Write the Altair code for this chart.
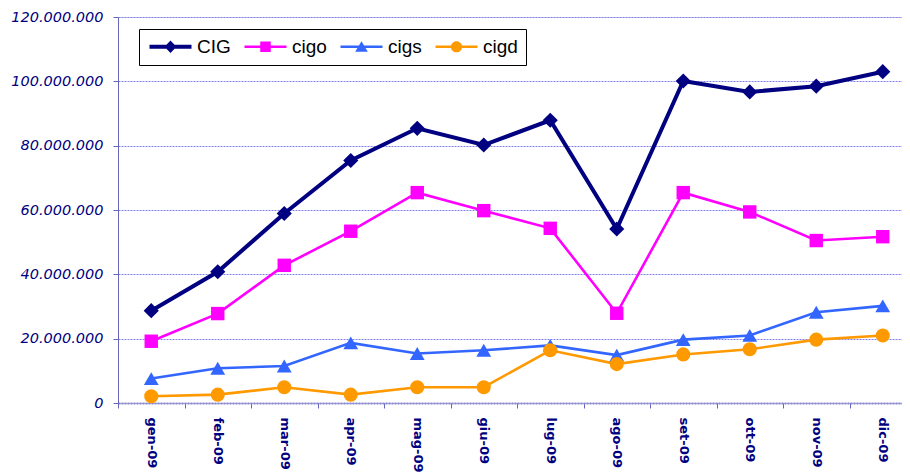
import altair as alt
import pandas as pd

months = ["gen-09", "feb-09", "mar-09", "apr-09", "mag-09", "giu-09",
          "lug-09", "ago-09", "set-09", "ott-09", "nov-09", "dic-09"]
series_names = ["CIG", "cigo", "cigs", "cigd"]

CIG = [28.7, 40.8, 58.9, 75.4, 85.4, 80.2, 87.9, 54.1, 100.1, 96.7, 98.5, 103.0]
cigo = [19.2, 27.8, 42.8, 53.4, 65.4, 59.8, 54.3, 27.9, 65.4, 59.4, 50.5, 51.7]
cigs = [7.6, 10.8, 11.5, 18.7, 15.4, 16.4, 17.9, 14.9, 19.7, 21.0, 28.2, 30.2]
cigd = [2.1, 2.6, 4.9, 2.6, 4.9, 4.9, 16.4, 12.1, 15.1, 16.7, 19.7, 21.0]

colors = ["#000080", "#FF00FF", "#3366FF", "#FF9900"]
shapes = ["diamond", "square", "triangle-up", "circle"]
sizes = [230, 180, 220, 200]
widths = [4, 2.6, 2.6, 2.6]

rows = []
for name, vals in zip(series_names, [CIG, cigo, cigs, cigd]):
    for m, v in zip(months, vals):
        rows.append({"mese": m, "serie": name, "valore": v * 1_000_000})
df = pd.DataFrame(rows)
legend_df = pd.DataFrame({"serie": series_names})

# legend symbols: line segment + marker (unit = 7px)
def seg(h):
    return f"M-1,-{h}H5V{h}H-1Z "
legend_paths = [
    seg(0.28) + "M2,-0.9L2.85,0L2,0.9L1.15,0Z",
    seg(0.17) + "M1.25,-0.75H2.75V0.75H1.25Z",
    seg(0.17) + "M2,-0.8L2.9,0.7H1.1Z",
    seg(0.17) + "M2.8,0A0.8,0.8 0 1,1 1.2,0A0.8,0.8 0 1,1 2.8,0Z",
]

legend = alt.Legend(
    title=None,
    orient="none",
    legendX=21,
    legendY=12,
    direction="horizontal",
    columns=4,
    strokeColor="black",
    fillColor="white",
    padding=8,
    symbolSize=196,
    symbolStrokeWidth=0,
    symbolOpacity=1,
    labelOffset=31,
    columnPadding=11,
    labelFont="Liberation Sans",
    labelFontSize=19,
    labelColor="black",
    labelLimit=200,
    cornerRadius=0,
)

x_enc = alt.X(
    "mese:O",
    sort=months,
    scale=alt.Scale(type="band", paddingInner=0, paddingOuter=0),
    axis=alt.Axis(
        title=None,
        labelAngle=90,
        labelFont="DejaVu Sans",
        labelFontSize=13,
        labelFontWeight="bold",
        labelColor="#000080",
        labelPadding=9,
        tickBand="extent",
        tickSize=5,
        tickColor="#6666bb",
        domainColor="#8888cc",
        domainWidth=2,
        domainDash=[2, 1],
        grid=False,
    ),
)
y_enc = alt.Y(
    "valore:Q",
    scale=alt.Scale(domain=[0, 120_000_000], nice=False),
    axis=alt.Axis(
        title=None,
        values=[0, 20e6, 40e6, 60e6, 80e6, 100e6, 120e6],
        labelExpr="replace(format(datum.value, ','), regexp(',', 'g'), '.')",
        labelFont="DejaVu Sans",
        labelFontSize=14.5,
        labelFontStyle="italic",
        labelColor="#000080",
        labelPadding=10,
        tickSize=5,
        tickColor="#6666bb",
        domainColor="#6666bb",
        gridColor="#8080ee",
        gridDash=[2, 1],
        gridWidth=1,
    ),
)
color_scale = alt.Scale(domain=series_names, range=colors)

base = alt.Chart(df)

line_layers = []
point_layers = []
for name, shp, sz, col, w in zip(series_names, shapes, sizes, colors, widths):
    sub = base.transform_filter(alt.datum.serie == name)
    line_layers.append(
        sub.mark_line(color=col, strokeWidth=w).encode(x=x_enc, y=y_enc)
    )
    point_layers.append(
        sub.mark_point(filled=True, opacity=1, shape=shp, size=sz, color=col)
        .encode(x=x_enc, y=y_enc)
    )

legend_layer = (
    alt.Chart(legend_df)
    .mark_point(filled=True, opacity=0, size=196)
    .encode(
        x=alt.value(0),
        y=alt.value(0),
        color=alt.Color("serie:N", scale=color_scale, legend=legend),
        shape=alt.Shape("serie:N", scale=alt.Scale(domain=series_names, range=legend_paths), legend=legend),
    )
)

chart = (
    alt.layer(*line_layers, *point_layers, legend_layer)
    .properties(
        width=798,
        height=386,
        autosize=alt.AutoSizeParams(type="none"),
        padding={"left": 110, "top": 9, "right": -14, "bottom": 71},
    )
    .configure_view(stroke=None)
    .configure(background="white")
)

chart.save("out.html", embed_options={"renderer": "svg", "actions": False})
